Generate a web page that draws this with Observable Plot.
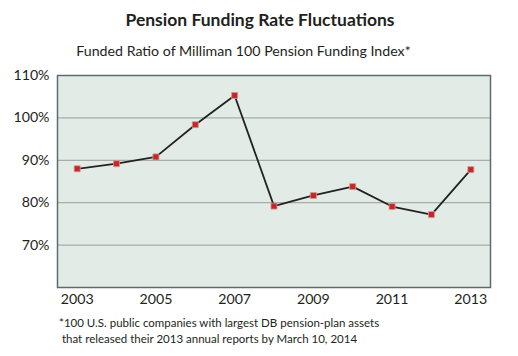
<!DOCTYPE html>
<html><head><meta charset="utf-8">
<script src="https://cdn.jsdelivr.net/npm/d3@7"></script>
<script src="https://cdn.jsdelivr.net/npm/@observablehq/plot@0.6"></script>
<style>
body{margin:0;background:#fff;width:518px;height:356px;position:relative;overflow:hidden;font-family:Lato,"Noto Sans",sans-serif;color:#231f20}
#title{position:absolute;left:0;width:520px;top:9px;text-align:center;font-weight:bold;font-size:17.5px}
#sub{position:absolute;left:0;width:487px;top:42px;text-align:center;font-size:14.2px}
#chart{position:absolute;left:0;top:60px}
#note{position:absolute;left:59px;top:315px;font-size:11.5px;line-height:16px}
</style></head><body>
<div id="title">Pension Funding Rate Fluctuations</div>
<div id="sub">Funded Ratio of Milliman 100 Pension Funding Index*</div>
<div id="chart"></div>
<div id="note">*100 U.S. public companies with largest DB pension-plan assets<br>&nbsp;that released their 2013 annual reports by March 10, 2014</div>
<script>
const years = [2003,2004,2005,2006,2007,2008,2009,2010,2011,2012,2013];
const ratios = [88.0,89.2,90.8,98.4,105.3,79.2,81.7,83.8,79.1,77.2,87.8];
const yTicks = [70,80,90,100,110];
const xTicks = [2003,2005,2007,2009,2011,2013];
const data = years.map((y,i)=>({year:y, ratio:ratios[i]}));
const chart = Plot.plot({
  width:518, height:250,
  marginLeft:57, marginRight:28, marginTop:15, marginBottom:23,
  style:{fontFamily:"Lato, 'Noto Sans', sans-serif", fontSize:"14.2px", color:"#231f20", background:"transparent"},
  x:{domain:[2002.5,2013.5], ticks:xTicks, tickFormat:d=>String(d), tickSize:0, tickPadding:6, label:null},
  y:{domain:[60,110], ticks:yTicks, tickFormat:d=>d+"%", tickSize:0, tickPadding:8, label:null},
  marks:[
    Plot.frame({fill:"#e3ebe6"}),
    Plot.gridY([70,80,90,100], {stroke:"#a8adab", strokeOpacity:1, strokeWidth:1.2}),
    Plot.frame({stroke:"#5b6b72", strokeWidth:1.5}),
    Plot.line(data,{x:"year", y:"ratio", stroke:"#222", strokeWidth:1.8}),
    Plot.dot(data,{x:"year", y:"ratio", symbol:"square", r:3.4, fill:"#c3262d", stroke:"#d99a8c", strokeWidth:0.8})
  ]
});
document.getElementById("chart").appendChild(chart);
</script>
</body></html>
